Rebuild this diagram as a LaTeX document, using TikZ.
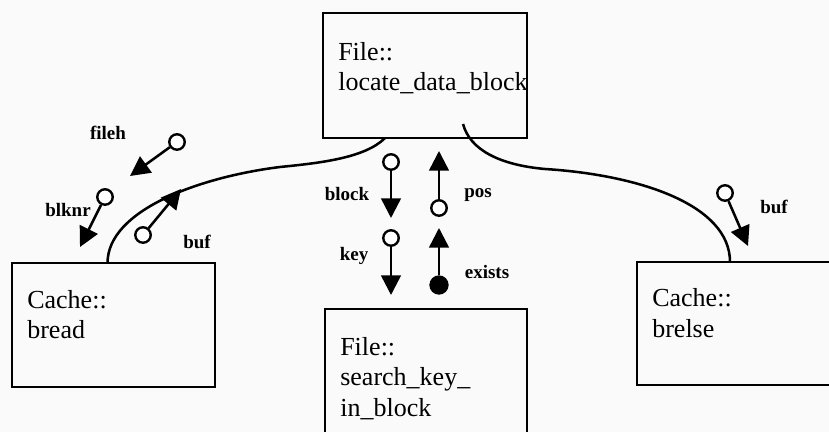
\documentclass[tikz,border=0pt]{standalone}
\usepackage{fontspec}
\setmainfont{Liberation Serif}
\usetikzlibrary{arrows.meta,positioning,calc}

\begin{document}
\begin{tikzpicture}[x=0.025cm,y=-0.025cm,
    modbox/.style={draw,line width=1.9pt,inner sep=0pt,outer sep=0pt,anchor=north west},
    modtext/.style={anchor=base west,align=left,inner sep=0pt,
                    font=\fontsize{18.5}{21.5}\selectfont},
    flow/.style={line width=1.8pt},
    couple/.style={line width=1.8pt,-{Triangle[length=14pt,width=14pt]}},
    datadot/.style={circle,draw,line width=1.7pt,fill=white,minimum size=11pt,inner sep=0pt},
    flagdot/.style={datadot,fill=black,minimum size=12pt},
    clabel/.style={font=\fontsize{13.5}{16}\selectfont\bfseries,inner sep=0pt}]
    \useasboundingbox (0,0) rectangle (829,432);
    \fill[black!2] (0,0) rectangle (829,432);
    \clip (0,0) rectangle (829,432);

    % modules (text placed by its last baseline)
    \node[modbox,minimum width=5.1cm,minimum height=3.125cm] (locate) at (323,13) {};
    \node[modtext] (locate-t) at ($(locate.north west)+(15,78)$) {File::\\locate\_data\_block};

    \node[modbox,minimum width=5.075cm,minimum height=3.1cm] (bread) at (12,263) {};
    \node[modtext] (bread-t) at ($(bread.north west)+(15,76)$) {Cache::\\bread};

    \node[modbox,minimum width=5.5cm,minimum height=3.075cm] (brelse) at (637,262) {};
    \node[modtext] (brelse-t) at ($(brelse.north west)+(15,75)$) {Cache::\\brelse};

    \node[modbox,minimum width=5.05cm,minimum height=3.75cm] (search) at (325,309) {};
    \node[modtext] (search-t) at ($(search.north west)+(15,107)$) {File::\\search\_key\_\\in\_block};

    % calls
    \draw[flow] ($(locate.south)+(-40,0)$)
      .. controls ($(locate.south)+(-60,20)$) and (320,163) .. (280,167)
      .. controls (200,177) and ($(bread.north)+(-6,-53)$) .. ($(bread.north)+(-6,0)$);
    \draw[flow] ($(locate.south)+(38,-14)$)
      .. controls ($(locate.south)+(45,12)$) and (500,165) .. (545,169)
      .. controls (640,175) and ($(brelse.north west)+(93,-57)$) .. ($(brelse.north west)+(93,0)$);
    \draw[flow] ($(locate.south)+(-8,0)$) -- ($(locate.south)+(-8,0)$ |- search.north);

    % couples to bread
    \node[datadot] (c-fileh) at (177,142) {};
    \coordinate (t-fileh) at (130,176);
    \draw[couple] (c-fileh) -- (t-fileh);
    \node[clabel] (l-fileh) at (108,133) {fileh};

    \node[datadot] (c-blknr) at (105,197) {};
    \coordinate (t-blknr) at (80,247);
    \draw[couple] (c-blknr) -- (t-blknr);
    \node[clabel] (l-blknr) at (68,210) {blknr};

    \node[datadot] (c-rbuf) at (143,235) {};
    \coordinate (t-rbuf) at (181,189);
    \draw[couple] (c-rbuf) -- (t-rbuf);
    \node[clabel] (l-rbuf) at (197,242) {buf};

    % couples to search_key_in_block
    \node[datadot] (c-block) at (391,162) {};
    \coordinate (t-block) at (391,218);
    \draw[couple] (c-block) -- (t-block);
    \node[clabel] (l-block) at (347,194) {block};

    \node[datadot] (c-key) at (391,238) {};
    \coordinate (t-key) at (391,295);
    \draw[couple] (c-key) -- (t-key);
    \node[clabel] (l-key) at (354,256) {key};

    \node[datadot] (c-pos) at (439,208) {};
    \coordinate (t-pos) at (439,151);
    \draw[couple] (c-pos) -- (t-pos);
    \node[clabel] (l-pos) at (478,195) {pos};

    \node[flagdot] (c-exists) at (439,285) {};
    \coordinate (t-exists) at (439,228);
    \draw[couple] (c-exists) -- (t-exists);
    \node[clabel] (l-exists) at (487,272) {exists};

    % couple to brelse
    \node[datadot] (c-fbuf) at (725,193) {};
    \coordinate (t-fbuf) at (748,246);
    \draw[couple] (c-fbuf) -- (t-fbuf);
    \node[clabel] (l-fbuf) at (774,207) {buf};
\end{tikzpicture}
\end{document}
